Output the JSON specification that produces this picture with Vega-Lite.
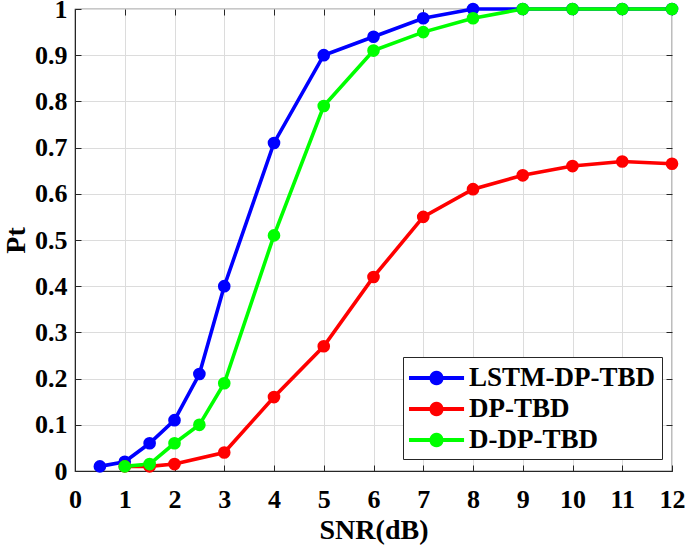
{
  "$schema": "https://vega.github.io/schema/vega-lite/v6.json",
  "width": 597,
  "height": 462,
  "autosize": {"type": "none"},
  "padding": {"left": 75, "top": 9, "right": 13, "bottom": 77},
  "background": "white",
  "config": {
    "font": "Liberation Serif",
    "view": {"stroke": "#262626", "strokeWidth": 1.2},
    "axis": {
      "labelFont": "Liberation Serif",
      "labelFontWeight": "bold",
      "labelFontSize": 26,
      "labelColor": "black",
      "labelOverlap": false,
      "labelFlush": false,
      "titleFont": "Liberation Serif",
      "titleFontWeight": "bold",
      "titleFontSize": 28,
      "titleColor": "black",
      "domainColor": "#262626",
      "tickColor": "#262626",
      "gridColor": "#dcdcdc",
      "gridWidth": 1
    }
  },
  "data": {
    "values": [
      {"snr": 0.5, "pt": 0.01, "method": "LSTM-DP-TBD"},
      {"snr": 1, "pt": 0.02, "method": "LSTM-DP-TBD"},
      {"snr": 1.5, "pt": 0.06, "method": "LSTM-DP-TBD"},
      {"snr": 2, "pt": 0.11, "method": "LSTM-DP-TBD"},
      {"snr": 2.5, "pt": 0.21, "method": "LSTM-DP-TBD"},
      {"snr": 3, "pt": 0.40, "method": "LSTM-DP-TBD"},
      {"snr": 4, "pt": 0.71, "method": "LSTM-DP-TBD"},
      {"snr": 5, "pt": 0.90, "method": "LSTM-DP-TBD"},
      {"snr": 6, "pt": 0.94, "method": "LSTM-DP-TBD"},
      {"snr": 7, "pt": 0.98, "method": "LSTM-DP-TBD"},
      {"snr": 8, "pt": 1.0, "method": "LSTM-DP-TBD"},
      {"snr": 9, "pt": 1.0, "method": "LSTM-DP-TBD"},
      {"snr": 10, "pt": 1.0, "method": "LSTM-DP-TBD"},
      {"snr": 11, "pt": 1.0, "method": "LSTM-DP-TBD"},
      {"snr": 12, "pt": 1.0, "method": "LSTM-DP-TBD"},
      {"snr": 1, "pt": 0.01, "method": "DP-TBD"},
      {"snr": 1.5, "pt": 0.01, "method": "DP-TBD"},
      {"snr": 2, "pt": 0.015, "method": "DP-TBD"},
      {"snr": 3, "pt": 0.04, "method": "DP-TBD"},
      {"snr": 4, "pt": 0.16, "method": "DP-TBD"},
      {"snr": 5, "pt": 0.27, "method": "DP-TBD"},
      {"snr": 6, "pt": 0.42, "method": "DP-TBD"},
      {"snr": 7, "pt": 0.55, "method": "DP-TBD"},
      {"snr": 8, "pt": 0.61, "method": "DP-TBD"},
      {"snr": 9, "pt": 0.64, "method": "DP-TBD"},
      {"snr": 10, "pt": 0.66, "method": "DP-TBD"},
      {"snr": 11, "pt": 0.67, "method": "DP-TBD"},
      {"snr": 12, "pt": 0.665, "method": "DP-TBD"},
      {"snr": 1, "pt": 0.01, "method": "D-DP-TBD"},
      {"snr": 1.5, "pt": 0.015, "method": "D-DP-TBD"},
      {"snr": 2, "pt": 0.06, "method": "D-DP-TBD"},
      {"snr": 2.5, "pt": 0.10, "method": "D-DP-TBD"},
      {"snr": 3, "pt": 0.19, "method": "D-DP-TBD"},
      {"snr": 4, "pt": 0.51, "method": "D-DP-TBD"},
      {"snr": 5, "pt": 0.79, "method": "D-DP-TBD"},
      {"snr": 6, "pt": 0.91, "method": "D-DP-TBD"},
      {"snr": 7, "pt": 0.95, "method": "D-DP-TBD"},
      {"snr": 8, "pt": 0.98, "method": "D-DP-TBD"},
      {"snr": 9, "pt": 1.0, "method": "D-DP-TBD"},
      {"snr": 10, "pt": 1.0, "method": "D-DP-TBD"},
      {"snr": 11, "pt": 1.0, "method": "D-DP-TBD"},
      {"snr": 12, "pt": 1.0, "method": "D-DP-TBD"}
    ]
  },
  "layer": [
    {
      "mark": {"type": "line", "strokeWidth": 3.6},
      "encoding": {
        "x": {
          "field": "snr", "type": "quantitative",
          "scale": {"domain": [0, 12], "nice": false},
          "axis": {"title": "SNR(dB)", "values": [0,1,2,3,4,5,6,7,8,9,10,11,12], "tickSize": -6, "labelPadding": 21, "titlePadding": 4, "grid": true}
        },
        "y": {
          "field": "pt", "type": "quantitative",
          "scale": {"domain": [0, 1], "nice": false},
          "axis": {"title": "Pt", "values": [0,0.1,0.2,0.3,0.4,0.5,0.6,0.7,0.8,0.9,1], "format": "~g", "tickSize": -6, "labelPadding": 14, "titlePadding": 4, "grid": true}
        },
        "color": {
          "field": "method", "type": "nominal",
          "scale": {"domain": ["LSTM-DP-TBD", "DP-TBD", "D-DP-TBD"], "range": ["#0000ff", "#ff0000", "#00ff00"]},
          "legend": {
            "title": null,
            "orient": "none",
            "legendX": 328,
            "legendY": 348,
            "symbolType": "M-1,-0.13H2.67V0.13H-1Z M1.3,0A0.467,0.467,0,1,1,0.367,0A0.467,0.467,0,1,1,1.3,0Z",
            "symbolSize": 900,
            "symbolStrokeWidth": 0,
            "symbolOpacity": 1,
            "labelFont": "Liberation Serif",
            "labelFontWeight": "bold",
            "labelFontSize": 27,
            "labelColor": "black",
            "labelLimit": 400,
            "labelOffset": 30,
            "rowPadding": 3,
            "padding": 6,
            "strokeColor": "#262626",
            "fillColor": "white",
            "encode": {"symbols": {"update": {"fill": {"scale": "color", "field": "value"}, "fillOpacity": {"value": 1}}}}
          }
        },
        "order": {"field": "snr", "type": "quantitative"}
      }
    },
    {
      "mark": {"type": "point", "filled": true, "size": 160, "opacity": 1},
      "encoding": {
        "x": {"field": "snr", "type": "quantitative", "axis": {"orient": "top", "title": null, "labels": false, "grid": false, "tickSize": -6, "domain": false, "values": [0,1,2,3,4,5,6,7,8,9,10,11,12]}},
        "y": {"field": "pt", "type": "quantitative", "axis": {"orient": "right", "title": null, "labels": false, "grid": false, "tickSize": -6, "domain": false, "values": [0,0.1,0.2,0.3,0.4,0.5,0.6,0.7,0.8,0.9,1]}},
        "color": {"field": "method", "type": "nominal"}
      }
    }
  ],
  "resolve": {"axis": {"x": "independent", "y": "independent"}}
}
